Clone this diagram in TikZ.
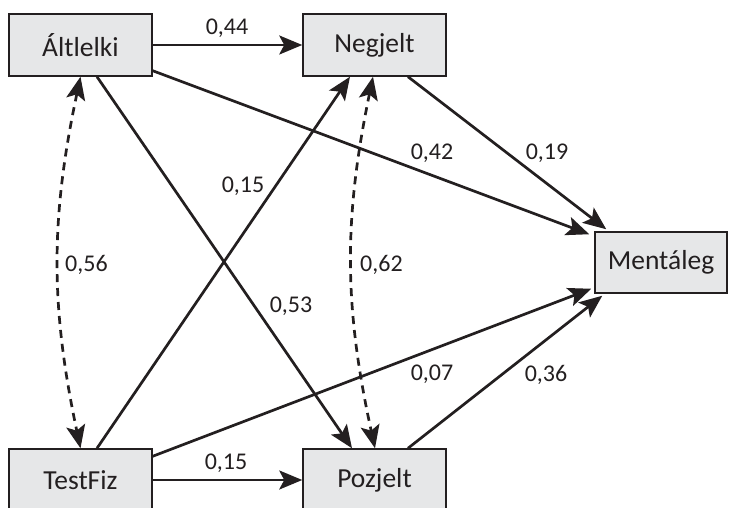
\documentclass[tikz,border=0pt]{standalone}
\usepackage{fontspec}
\setmainfont{Carlito}
\usetikzlibrary{arrows.meta,calc}
\definecolor{boxfill}{HTML}{E6E7E8}
\definecolor{ink}{HTML}{231F20}
\tikzset{tipx/.tip={Stealth[length=23pt,width=19pt,inset=5pt]}}
\begin{document}
\begin{tikzpicture}[x=1pt,y=-1pt,
  var/.style={draw=ink, fill=boxfill, line width=1.5pt, minimum width=143pt,
    minimum height=62pt, inner sep=0pt, text=ink, font=\fontsize{27.5}{33}\selectfont},
  conn/.style={draw=ink, line width=2.7pt, -tipx},
  cov/.style={draw=ink, line width=2.7pt, dash pattern=on 8pt off 6pt, tipx-tipx},
  coef/.style={font=\fontsize{24}{28}\selectfont, text=ink, inner sep=0pt, text depth=0pt}]
\useasboundingbox (0,0) rectangle (729,508);
\clip (0,0) rectangle (729,508);

\node[var] (alt) at (80.5,45) {Áltlelki};
\node[var] (neg) at (374.5,45) {Negjelt};
\node[var] (test) at (80.5,480) {TestFiz};
\node[var] (poz) at (374.5,480) {Pozjelt};
\node[var, minimum width=132pt, minimum height=61pt] (ment) at (661,262.5) {Mentáleg};

\draw[conn] (alt.east) -- (neg.west);
\draw[conn] (test.east) -- (poz.west);
\draw[conn] ($(alt.south)+(16.5,0)$) -- ($(poz.north)+(-22.5,0)$);
\draw[conn] ($(test.north)+(16.5,0)$) -- ($(neg.south)+(-24.5,0)$);
\draw[conn] ($(alt.south east)+(0,-6)$) -- ($(ment.north west)+(-5,3)$);
\draw[conn] ($(test.north east)+(0,8)$) -- ($(ment.south west)+(-3,-5)$);
\draw[conn] ($(neg.south)+(33.5,0)$) -- ($(ment.north west)+(12,-2)$);
\draw[conn] ($(poz.north)+(33.5,0)$) -- ($(ment.south west)+(8,2)$);

\draw[cov] (alt.south) to[bend right=12] (test.north);
\draw[cov] ($(neg.south)+(-1.5,0)$) to[bend right=12] ($(poz.north)+(0.5,0)$);

\node[coef] (c44) at (227,27) {0,44};
\node[coef] (c15b) at (226,462) {0,15};
\node[coef] (c15a) at (243,185) {0,15};
\node[coef] (c53) at (291,305) {0,53};
\node[coef] (c42) at (432,152) {0,42};
\node[coef] (c19) at (547,152) {0,19};
\node[coef] (c07) at (432,373) {0,07};
\node[coef] (c36) at (546,373) {0,36};
\node[coef, anchor=west] (c56) at (65,263) {0,56};
\node[coef, anchor=west] (c62) at (360,263) {0,62};
\end{tikzpicture}
\end{document}
